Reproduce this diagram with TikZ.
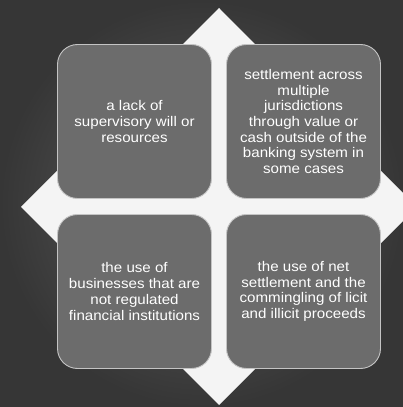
\documentclass[tikz,border=0pt]{standalone}
\usepackage{fontspec}
\setmainfont{Liberation Sans}[FakeStretch=1.08]
\definecolor{bgin}{HTML}{5E5E5E}
\definecolor{bgout}{HTML}{363636}
\definecolor{boxfill}{HTML}{6C6C6C}
\definecolor{boxline}{HTML}{C4C4C4}
\definecolor{diam}{HTML}{F4F4F4}
\tikzset{
  cell/.style={rectangle, rounded corners=20pt, minimum width=154pt, minimum height=154pt,
    fill=boxfill, draw=boxline, line width=0.9pt, text=white, align=center, inner sep=4pt,
    font=\fontsize{14pt}{15.7pt}\selectfont},
}
\begin{document}
\begin{tikzpicture}[x=1pt,y=1pt]
\useasboundingbox (0,0) rectangle (403,407);
\shade[inner color=bgin, outer color=bgout] (0,0) rectangle (403,407);
\clip (0,0) rectangle (403,407);
\fill[diam] (219,399) -- (21,200) -- (219,2) -- (417,200) -- cycle;
\node[cell] (tl) at (134.5,285.5) {a lack of\\supervisory will or\\resources};
\node[cell] (tr) at (303.5,285.5) {settlement across\\multiple\\jurisdictions\\through value or\\cash outside of the\\banking system in\\some cases};
\node[cell] (bl) at (134.5,115.5) {the use of\\businesses that are\\not regulated\\financial institutions};
\node[cell] (br) at (303.5,115.5) {the use of net\\settlement and the\\commingling of licit\\and illicit proceeds};
\end{tikzpicture}
\end{document}
